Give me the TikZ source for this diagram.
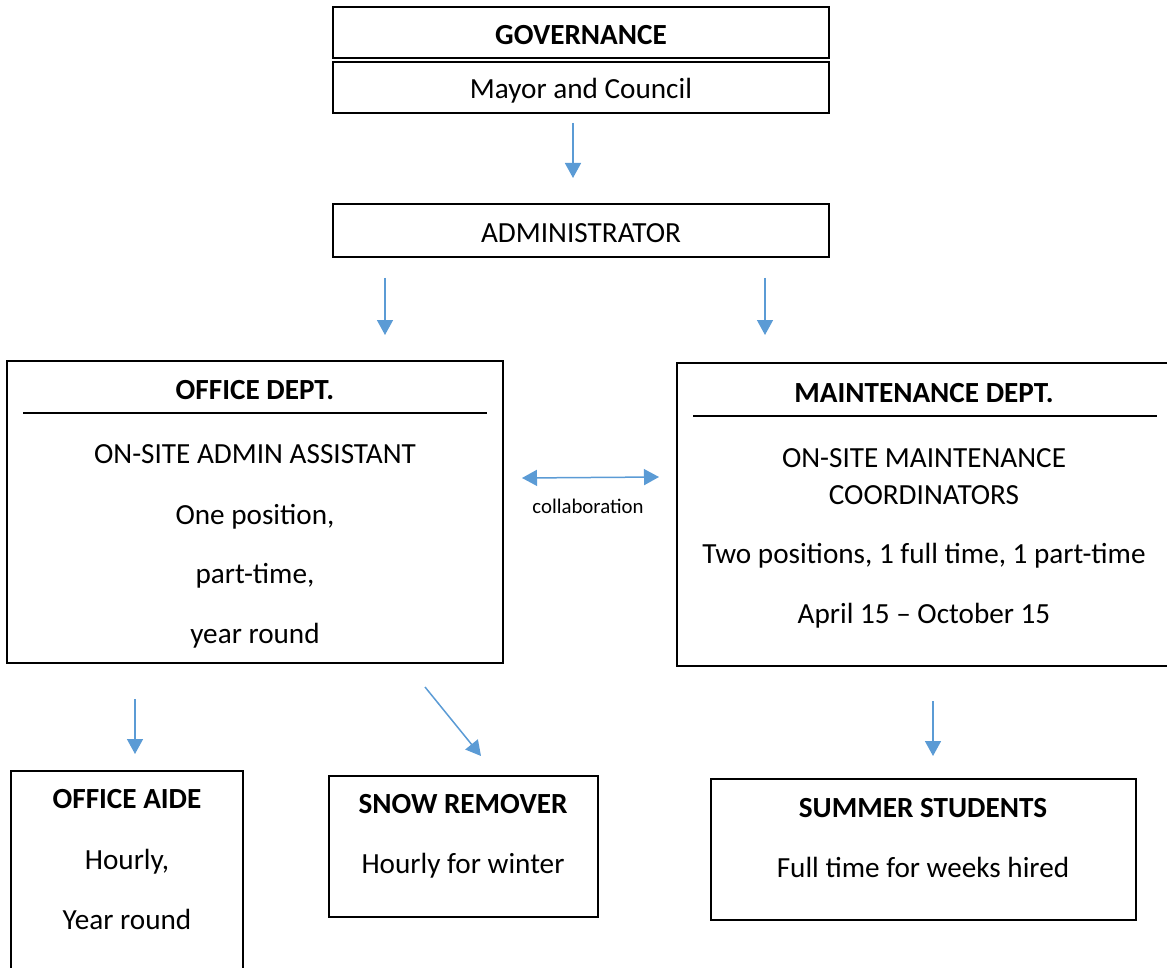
\documentclass[tikz,border=0pt]{standalone}
\usepackage{fontspec}
\setmainfont{Carlito}
\usepackage{tikz}
\usetikzlibrary{arrows.meta}
\definecolor{arrowblue}{HTML}{5B9BD5}
\tikzset{%
  every box/.style={
    draw,
    line width=1pt,
    inner sep=0pt,
    outer sep=0pt
  },
  box text/.style={
    anchor=base,
    inner sep=0pt,
    font=\fontsize{14.6}{17.5}\selectfont
  },
  box head/.style={
    box text,
    font=\fontsize{14.6}{17.5}\selectfont\bfseries
  },
  divider/.style={line width=1pt},
  flow/.style={->, arrowblue, line width=0.75pt},
}

\begin{document}
\begin{tikzpicture}[> = {Triangle[length=7.5pt,width=8pt]}, x=0.5pt, y=-0.5pt]
\clip (0,0) rectangle (1167,968);

    \node[every box, minimum width=248pt, minimum height=25.5pt] (gov) at (581,32.5){};
    \node[every box, minimum width=248pt, minimum height=25.5pt] (mayor) at (581,87.5){};
    \node[every box, minimum width=248pt, minimum height=26.5pt] (admin) at (581,230.5){};
    \node[every box, minimum width=248pt, minimum height=151pt] (office) at (255,512){};
    \node[every box, minimum width=246.5pt, minimum height=151.5pt] (maint) at (923.5,514.5){};
    \node[every box, minimum width=116pt, minimum height=114.5pt] (aide) at (127,885.5){};
    \node[every box, minimum width=134.5pt, minimum height=70.5pt] (snow) at (463.5,846.5){};
    \node[every box, minimum width=212.5pt, minimum height=70.5pt] (summer) at (923.5,849.5){};

    \node[box head] (gov_head) at (581,45) {GOVERNANCE};
    \node[box text] (mayor_text) at (581,99) {Mayor and Council};
    \node[box text] (admin_text) at (581,243) {ADMINISTRATOR};

    \node[box head] (office_head) at (255,399) {OFFICE DEPT.};
    \draw[divider] (23,413) -- (487,413);
    \foreach \yy/\txt in {463/ON-SITE ADMIN ASSISTANT, 524/{One position,}, 583/{part-time,}, 643/year round}
        \node[box text] (office_\yy) at (255,\yy) {\txt};

    \node[box head] (maint_head) at (924,402) {MAINTENANCE DEPT.};
    \draw[divider] (693,416) -- (1157,416);
    \foreach \yy/\txt in {467/ON-SITE MAINTENANCE, 504/COORDINATORS, 563/{Two positions, 1 full time, 1 part-time}, 623/April 15 – October 15}
        \node[box text] (maint_\yy) at (924,\yy) {\txt};

    \node[box head] (aide_head) at (127,808) {OFFICE AIDE};
    \node[box text] (aide_1) at (127,869) {Hourly,};
    \node[box text] (aide_2) at (127,929) {Year round};

    \node[box head] (snow_head) at (463,813) {SNOW REMOVER};
    \node[box text] (snow_1) at (463,873) {Hourly for winter};

    \node[box head] (summer_head) at (923,817) {SUMMER STUDENTS};
    \node[box text] (summer_1) at (923,877) {Full time for weeks hired};

    \node[box text, font=\fontsize{10.4}{12.5}\selectfont] (collab) at (588,513) {collaboration};

    \coordinate (arr_1_s) at (573,123);
    \coordinate (arr_1_e) at (573,178);
    \coordinate (arr_2_s) at (385,278);
    \coordinate (arr_2_e) at (385,335);
    \coordinate (arr_3_s) at (765,278);
    \coordinate (arr_3_e) at (765,335);
    \coordinate (arr_4_s) at (135,699);
    \coordinate (arr_4_e) at (135,754);
    \coordinate (arr_5_s) at (425,687);
    \coordinate (arr_5_e) at (481,756);
    \coordinate (arr_6_s) at (933,701);
    \coordinate (arr_6_e) at (933,756);
    \coordinate (collab_l) at (522,478);
    \coordinate (collab_r) at (659,477);

    \draw[flow] (arr_1_s) -- (arr_1_e);
    \draw[flow] (arr_2_s) -- (arr_2_e);
    \draw[flow] (arr_3_s) -- (arr_3_e);
    \draw[flow] (arr_4_s) -- (arr_4_e);
    \draw[flow] (arr_5_s) -- (arr_5_e);
    \draw[flow] (arr_6_s) -- (arr_6_e);
    \draw[flow, <->] (collab_l) -- (collab_r);
\end{tikzpicture}
\end{document}
